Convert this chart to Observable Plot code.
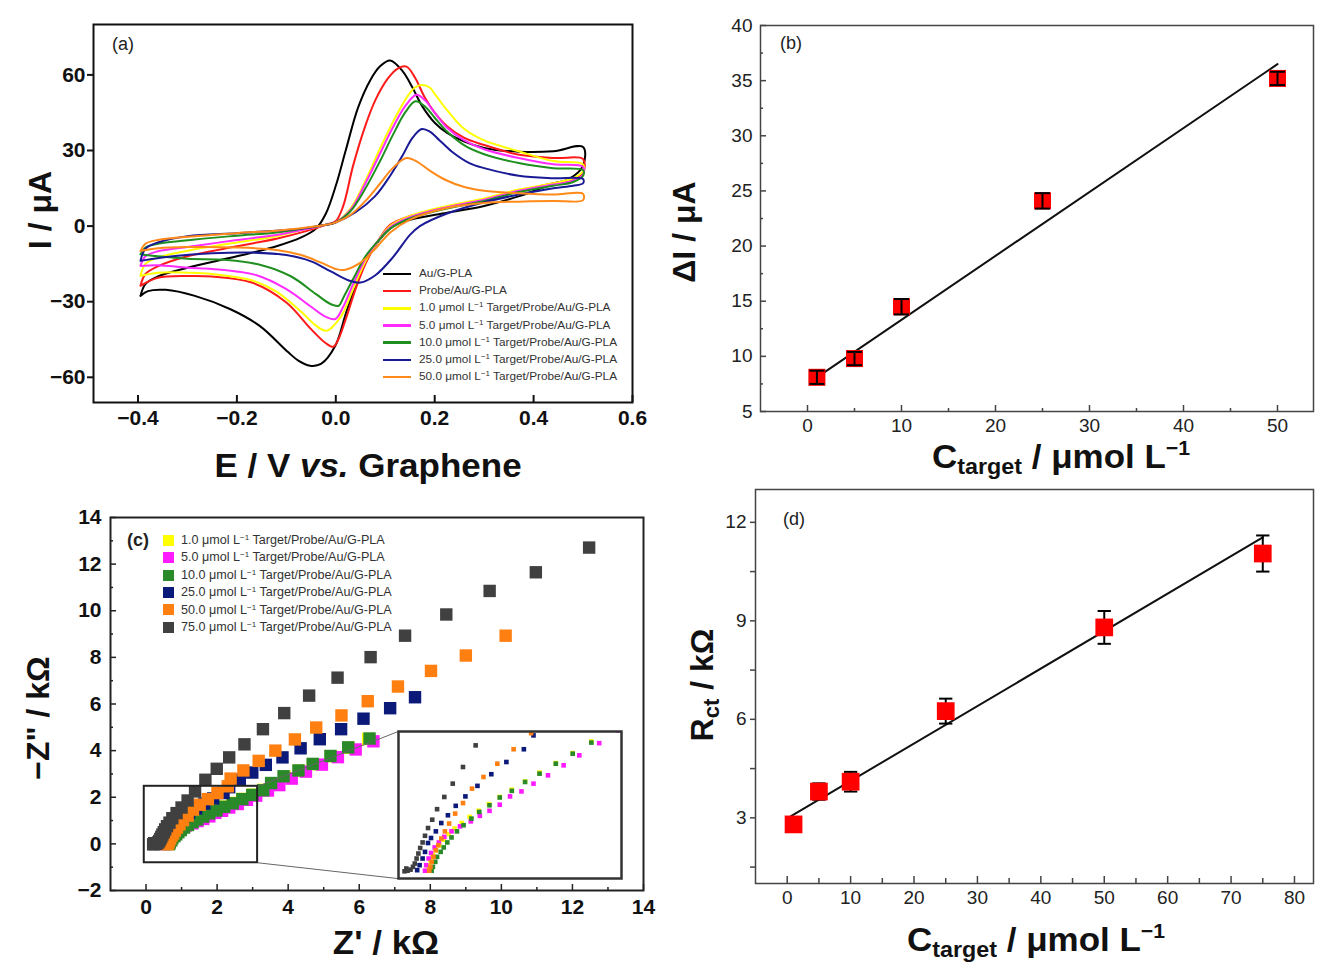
<!DOCTYPE html>
<html><head><meta charset="utf-8">
<script src="https://cdn.jsdelivr.net/npm/d3@7"></script>
<script src="https://cdn.jsdelivr.net/npm/@observablehq/plot@0.6"></script>
<style>
body{margin:0;background:#fff;}
#wrap{position:relative;width:1319px;height:965px;background:#fff;overflow:hidden;font-family:"Liberation Sans",Arial,Helvetica,sans-serif;}
.panel{position:absolute;}
.title{position:absolute;font-weight:bold;font-size:32px;color:#111;white-space:nowrap;transform:translate(-50%,-50%);line-height:1;}
.title.wide{font-size:33px;transform:translate(-50%,-50%) scaleX(1.06);}
.title.rot{transform:translate(-50%,-50%) rotate(-90deg);}
.title sub{font-size:22px;vertical-align:-6px;line-height:0;}
.title sup{font-size:20px;vertical-align:13px;line-height:0;}
.plabel{position:absolute;font-size:18px;color:#222;line-height:1;}
.legrow{position:absolute;color:#333;white-space:nowrap;line-height:1;display:flex;align-items:center;}
.legrow sup{font-size:8px;vertical-align:4px;line-height:0;}
.sw-line{display:inline-block;width:28px;height:2.5px;margin-right:8px;}
.sw-sq{display:inline-block;width:11px;height:11px;margin-right:7px;}
</style></head>
<body>
<div id="wrap">
  <div id="pa" class="panel" style="left:0;top:0"></div>
  <div id="pb" class="panel" style="left:660px;top:0"></div>
  <div id="pc" class="panel" style="left:0;top:480px"></div>
  <div id="pd" class="panel" style="left:660px;top:480px"></div>
  <div id="inset" class="panel"></div>
  <div id="legA"></div>
  <div id="legC"></div>
  <div class="plabel" style="left:112px;top:35px;font-size:18px">(a)</div>
  <div class="plabel" style="left:780px;top:34px">(b)</div>
  <div class="plabel" style="left:127px;top:531px;font-weight:bold">(c)</div>
  <div class="plabel" style="left:783px;top:510px">(d)</div>
  <div class="title rot" style="left:40px;top:210px">I / μA</div>
  <div class="title wide" style="left:368px;top:465px">E / V <i>vs.</i> Graphene</div>
  <div class="title rot" style="left:684px;top:232px">ΔI / μA</div>
  <div class="title wide" style="left:1061px;top:456px">C<sub>target</sub> / μmol L<sup>−1</sup></div>
  <div class="title rot" style="left:38px;top:718px">−Z" / kΩ</div>
  <div class="title wide" style="left:386px;top:942px">Z' / kΩ</div>
  <div class="title rot" style="left:702px;top:685px">R<sub>ct</sub> / kΩ</div>
  <div class="title wide" style="left:1036px;top:939px">C<sub>target</sub> / μmol L<sup>−1</sup></div>
</div>
<script>
// ---------------- Panel (a): cyclic voltammograms [E (V), I (μA)] ----------------
const cvAu = [[-0.395,-27.7],[-0.385,-23],[-0.36,-20],[-0.3,-16.5],[-0.2,-12],[-0.12,-8],[-0.07,-4.5],[-0.04,-1],[-0.02,5],[0.0,16],[0.02,30],[0.045,47],[0.07,58],[0.09,63.5],[0.11,65.7],[0.135,61.5],[0.155,55],[0.175,47.5],[0.2,41],[0.225,37],[0.26,33.5],[0.3,31],[0.37,29.5],[0.44,29.7],[0.5,31.4],
  [0.5,24],[0.47,18.5],[0.444,17.1],[0.371,11.9],[0.298,7.9],[0.225,5.3],[0.152,2.6],[0.116,0],[0.079,-7.9],[0.05,-18.5],[0.021,-34.3],[-0.001,-47.5],[-0.03,-54.7],[-0.052,-55.4],[-0.075,-53.5],[-0.096,-50.1],[-0.154,-39.6],[-0.213,-33],[-0.285,-27.7],[-0.344,-25.3],[-0.38,-25.8],[-0.395,-27.7]];
const cvProbe = [[-0.395,-23.7],[-0.385,-19],[-0.36,-16],[-0.3,-12],[-0.2,-8],[-0.12,-5],[-0.06,-2],[-0.02,0.5],[0.0,2],[0.015,8],[0.035,24],[0.06,40],[0.08,50],[0.105,58.5],[0.125,62.5],[0.143,63.3],[0.16,59],[0.18,51],[0.2,45],[0.225,39.6],[0.26,35],[0.298,32.3],[0.371,28.3],[0.444,27],[0.5,26.6],
  [0.5,21],[0.48,18.5],[0.44,17],[0.37,14],[0.3,10.5],[0.225,7.5],[0.15,4],[0.11,0.5],[0.085,-6],[0.06,-15],[0.04,-25],[0.02,-37],[0.005,-45],[-0.005,-47.9],[-0.02,-46.5],[-0.05,-40.9],[-0.1,-30.3],[-0.17,-22.4],[-0.25,-20],[-0.3,-19.8],[-0.36,-20.5],[-0.395,-23.7]];
const cv1 = [[-0.395,-19.8],[-0.385,-15],[-0.36,-12.5],[-0.285,-9.2],[-0.2,-6.5],[-0.12,-4],[-0.067,-1.5],[-0.02,0.5],[0.0,1.5],[0.03,7],[0.06,18],[0.09,31],[0.12,43],[0.145,51.5],[0.16,55],[0.174,56],[0.19,55],[0.2,52.5],[0.225,46],[0.26,38.5],[0.3,34],[0.37,29.7],[0.44,25.8],[0.5,24.5],
  [0.5,21.8],[0.48,19],[0.44,17],[0.37,14.5],[0.3,11],[0.225,8],[0.15,4],[0.11,0],[0.085,-6],[0.06,-14],[0.035,-25],[0.01,-36],[-0.019,-41.5],[-0.04,-39.5],[-0.07,-34],[-0.12,-26],[-0.17,-21.5],[-0.25,-19],[-0.3,-18.5],[-0.36,-18.5],[-0.395,-19.8]];
const cv5 = [[-0.395,-15.8],[-0.385,-12],[-0.36,-10],[-0.285,-7.9],[-0.2,-5.5],[-0.12,-3.5],[-0.067,-1.5],[-0.02,0.5],[0.0,1.5],[0.03,6.5],[0.06,17],[0.09,29],[0.115,39],[0.14,47.5],[0.163,52.1],[0.18,50],[0.2,45],[0.225,39],[0.26,34],[0.3,30.5],[0.37,27],[0.44,24.5],[0.5,23.5],
  [0.5,20.5],[0.48,18],[0.44,16.5],[0.37,14],[0.3,10.5],[0.225,7.5],[0.15,3.5],[0.11,-0.5],[0.085,-6],[0.06,-13],[0.035,-23],[0.015,-32],[-0.001,-36.9],[-0.02,-36],[-0.05,-32],[-0.1,-25],[-0.16,-19.5],[-0.25,-17],[-0.3,-16.5],[-0.36,-15.5],[-0.395,-15.8]];
const cv10 = [[-0.395,-11.2],[-0.385,-8.5],[-0.36,-7],[-0.285,-5.3],[-0.2,-3.8],[-0.12,-2.5],[-0.067,-1],[-0.02,0.5],[0.0,1.5],[0.03,6],[0.06,15],[0.09,26],[0.115,36],[0.14,45],[0.161,49.5],[0.18,47.5],[0.2,43],[0.225,37.5],[0.26,32],[0.3,28.5],[0.37,25],[0.44,23],[0.5,22.2],
  [0.5,20],[0.48,17.5],[0.44,16],[0.37,13.5],[0.3,10],[0.225,7],[0.15,3],[0.11,-1],[0.085,-6],[0.06,-12],[0.035,-21],[0.015,-28.5],[0.006,-31.6],[-0.01,-31],[-0.04,-27],[-0.09,-20],[-0.15,-15.5],[-0.22,-13.5],[-0.3,-13],[-0.36,-12],[-0.395,-11.2]];
const cv25 = [[-0.395,-13.8],[-0.385,-9],[-0.36,-6.5],[-0.3,-4],[-0.2,-2.8],[-0.12,-1.8],[-0.067,-1],[-0.02,0.5],[0.0,1.5],[0.04,5.5],[0.08,12],[0.11,20],[0.135,28],[0.155,35],[0.174,38.5],[0.19,37.5],[0.21,34],[0.235,29.5],[0.27,25],[0.3,23],[0.37,20],[0.44,19],[0.5,18.7],
  [0.5,17],[0.48,16],[0.44,15],[0.37,12.5],[0.3,9.5],[0.225,5],[0.17,0],[0.15,-3.5],[0.115,-12.5],[0.08,-19.5],[0.05,-22.4],[0.025,-21.5],[-0.01,-18],[-0.05,-14],[-0.1,-11.5],[-0.17,-10.5],[-0.25,-10.8],[-0.33,-12],[-0.395,-13.8]];
const cv50 = [[-0.395,-9.9],[-0.385,-7],[-0.36,-5.5],[-0.285,-4],[-0.2,-2.8],[-0.12,-1.8],[-0.067,-0.8],[-0.02,0.5],[0.0,1.5],[0.03,4.5],[0.06,10],[0.09,17],[0.115,23],[0.143,27],[0.165,25.5],[0.19,22],[0.22,18.5],[0.26,15.5],[0.3,14],[0.37,13],[0.44,12.5],[0.5,12.8],
  [0.5,10.3],[0.44,10],[0.37,9.7],[0.3,9.2],[0.225,7.2],[0.15,2.6],[0.11,-2.5],[0.08,-9],[0.05,-14.5],[0.017,-17.4],[0.0,-17],[-0.03,-14.5],[-0.07,-11.5],[-0.12,-9.5],[-0.2,-8.5],[-0.3,-8.3],[-0.36,-8.8],[-0.395,-9.9]];

const cvNames  = ["Au/G-PLA","Probe/Au/G-PLA","1.0","5.0","10.0","25.0","50.0"];
const cvColors = ["#000000","#ff1a1a","#ffff00","#ff2bff","#1f8f1f","#1a1a96","#ff8a1a"];
const cvData   = [cvAu, cvProbe, cv1, cv5, cv10, cv25, cv50];

const xTicksA = [-0.4,-0.2,0,0.2,0.4,0.6];
const yTicksA = [-60,-30,0,30,60];

// ---------------- Panel (b) ----------------
const bConc   = [1, 5, 10, 25, 50];
const bDeltaI = [8.1, 9.8, 14.5, 24.1, 35.2];
const bErr    = [0.6, 0.6, 0.7, 0.7, 0.6];
const bFitX   = [1, 50];
const bFitY   = [8.1, 36.5];
const xTicksB = [0,10,20,30,40,50];
const xMinorB = [5,15,25,35,45];
const yTicksB = [5,10,15,20,25,30,35,40];
const yMinorB = [7.5,12.5,17.5,22.5,27.5,32.5,37.5];

// ---------------- Panel (c): Nyquist plots [Z' (kΩ), -Z'' (kΩ)] ----------------
const eis1 = [[0.58,-0.01],[0.60,0.08],[0.63,0.18],[0.67,0.27],[0.72,0.36],[0.78,0.45],[0.85,0.55],[0.93,0.65],[1.03,0.75],[1.15,0.85],[1.28,0.96],[1.43,1.07],[1.60,1.19],[1.78,1.32],[1.98,1.45],[2.20,1.60],[2.44,1.76],[2.71,1.93],[2.99,2.11],[3.30,2.32],[3.55,2.60],[3.90,2.88],[4.30,3.14],[4.70,3.42],[5.20,3.76],[5.70,4.12],[6.25,4.50]];
const eis5 = [[0.54,-0.01],[0.56,0.09],[0.60,0.21],[0.64,0.31],[0.70,0.41],[0.77,0.50],[0.86,0.60],[0.98,0.70],[1.12,0.79],[1.30,0.88],[1.45,0.98],[1.61,1.07],[1.78,1.18],[1.95,1.33],[2.14,1.42],[2.34,1.56],[2.58,1.71],[2.84,1.89],[3.10,2.07],[3.43,2.29],[3.75,2.52],[4.10,2.80],[4.50,3.10],[4.95,3.40],[5.40,3.72],[5.90,4.05],[6.40,4.40]];
const eis10 = [[0.65,-0.01],[0.67,0.06],[0.71,0.15],[0.74,0.24],[0.80,0.33],[0.85,0.41],[0.91,0.50],[0.98,0.59],[1.07,0.70],[1.18,0.81],[1.31,0.93],[1.44,1.05],[1.61,1.17],[1.78,1.31],[1.98,1.43],[2.20,1.59],[2.44,1.74],[2.71,1.92],[2.99,2.10],[3.30,2.30],[3.52,2.61],[3.87,2.90],[4.29,3.15],[4.69,3.43],[5.19,3.77],[5.69,4.14],[6.29,4.52]];
const eis25 = [[0.41,0.0],[0.45,0.09],[0.50,0.21],[0.54,0.33],[0.59,0.49],[0.64,0.58],[0.72,0.70],[0.81,0.85],[0.92,0.99],[1.05,1.16],[1.21,1.33],[1.41,1.52],[1.64,1.73],[1.89,1.95],[2.18,2.18],[2.34,2.43],[2.64,2.75],[2.99,3.06],[3.37,3.39],[3.84,3.71],[4.35,4.10],[4.89,4.49],[5.49,4.92],[6.12,5.37],[6.87,5.82],[7.57,6.29]];
const eis50 = [[0.61,-0.01],[0.63,0.06],[0.65,0.15],[0.68,0.24],[0.72,0.36],[0.76,0.45],[0.81,0.57],[0.87,0.70],[0.94,0.84],[1.04,1.02],[1.17,1.21],[1.32,1.47],[1.51,1.68],[1.74,1.92],[2.01,2.18],[2.30,2.47],[2.38,2.80],[2.74,3.15],[3.17,3.56],[3.64,4.00],[4.19,4.48],[4.79,4.99],[5.50,5.51],[6.24,6.12],[7.09,6.75],[8.02,7.42],[9.00,8.08],[10.12,8.93]];
const eis75 = [[0.20,-0.02],[0.23,0.03],[0.25,-0.01],[0.30,0.01],[0.34,0.06],[0.37,0.12],[0.40,0.21],[0.43,0.30],[0.46,0.40],[0.50,0.50],[0.54,0.62],[0.59,0.76],[0.66,0.91],[0.74,1.10],[0.86,1.32],[1.00,1.56],[1.17,1.86],[1.38,2.25],[1.67,2.75],[1.99,3.22],[2.34,3.71],[2.77,4.27],[3.29,4.92],[3.89,5.61],[4.59,6.36],[5.39,7.13],[6.32,8.01],[7.29,8.93],[8.45,9.84],[9.67,10.85],[10.97,11.65],[12.47,12.71]];

const eisNames  = ["1.0","5.0","10.0","25.0","50.0","75.0"];
const eisColors = ["#ffff00","#ff1aff","#2a8a2a","#0b1a78","#ff8010","#404040"];
const eisData   = [eis1, eis5, eis10, eis25, eis50, eis75];

const xTicksC = [0,2,4,6,8,10,12,14];
const xMinorC = [1,3,5,7,9,11,13];
const yTicksC = [-2,0,2,4,6,8,10,12,14];
const yMinorC = [-1,1,3,5,7,9,11,13];
const zoomBox  = {x1: -0.05, x2: 3.14, y1: -0.81, y2: 2.47};
const insetBox = {x1: 7.1, x2: 13.38, y1: -1.49, y2: 4.82};
const insetXDomain = [0.1, 3.8];
const insetYDomain = [-0.15, 2.5];

// ---------------- Panel (d) ----------------
const dConc = [1, 5, 10, 25, 50, 75];
const dRct  = [2.8, 3.8, 4.1, 6.25, 8.8, 11.05];
const dErr  = [0.2, 0.25, 0.3, 0.38, 0.5, 0.55];
const dFitX = [0.6, 75];
const dFitY = [3.05, 11.54];
const xTicksD = [0,10,20,30,40,50,60,70,80];
const xMinorD = [5,15,25,35,45,55,65,75];
const yTicksD = [3,6,9,12];
const yMinorD = [1.5,4.5,7.5,10.5];

// ---------------- helpers ----------------
const FONT = "'Liberation Sans', Arial, Helvetica, sans-serif";
const baseStyle = {background: "transparent", color: "#111", fontFamily: FONT, overflow: "visible"};
const capSymbol = {draw(ctx, size) { const w = Math.sqrt(size); ctx.moveTo(-w / 2, 0); ctx.lineTo(w / 2, 0); }};
const fit = (xs, ys) => xs.map((x, i) => ({x, y: ys[i]}));
const rows = (xs, ys, es) => xs.map((x, i) => ({x, y: ys[i], e: es[i]}));

// ---- (a)
const innerHA = 402 - 24;
const pa = Plot.plot({
  width: 660, height: 480, marginLeft: 93, marginRight: 28, marginTop: 24, marginBottom: 78,
  x: {domain: [-0.49, 0.6]}, y: {domain: [-70, 80]},
  style: baseStyle,
  marks: [
    ...cvData.map((d, i) => Plot.line(d, {x: p => p[0], y: p => p[1], stroke: cvColors[i], strokeWidth: 2, curve: "catmull-rom"})),
    Plot.frame({stroke: "#111", strokeWidth: 2}),
    Plot.tickX(xTicksA, {x: d => d, insetTop: innerHA - 7, stroke: "#111", strokeWidth: 2}),
    Plot.axisX(xTicksA, {tickSize: 0, tickPadding: 8, fontSize: 21, fontWeight: "bold", tickFormat: d3.format(".1f"), label: null}),
    Plot.axisY(yTicksA, {tickSize: 6, tickPadding: 2, fontSize: 21, fontWeight: "bold", strokeWidth: 2, label: null})
  ]
});
document.getElementById("pa").appendChild(pa);

// ---- (b)
const innerHB = 411 - 25, innerWB = 1313 - 760;
const bRows = rows(bConc, bDeltaI, bErr);
const pb = Plot.plot({
  width: 659, height: 480, marginLeft: 100, marginRight: 6, marginTop: 25, marginBottom: 69,
  x: {domain: [-5, 53.83]}, y: {domain: [5, 40]},
  style: baseStyle,
  marks: [
    Plot.line(fit(bFitX, bFitY), {x: "x", y: "y", stroke: "#111", strokeWidth: 2}),
    Plot.dot(bRows, {x: "x", y: "y", symbol: "square", r: 9.6, fill: "#ff0000"}),
    Plot.ruleX(bRows, {x: "x", y1: d => d.y - d.e, y2: d => d.y + d.e, stroke: "#000", strokeWidth: 2}),
    Plot.dot(bRows, {x: "x", y: d => d.y - d.e, symbol: capSymbol, r: 8.5, fill: "none", stroke: "#000", strokeWidth: 2}),
    Plot.dot(bRows, {x: "x", y: d => d.y + d.e, symbol: capSymbol, r: 8.5, fill: "none", stroke: "#000", strokeWidth: 2}),
    Plot.frame({stroke: "#444", strokeWidth: 1.5}),
    Plot.tickX(xTicksB, {x: d => d, insetTop: innerHB - 6, stroke: "#444", strokeWidth: 1.5}),
    Plot.tickX(xMinorB, {x: d => d, insetTop: innerHB - 3, stroke: "#444", strokeWidth: 1.5}),
    Plot.tickY(yTicksB, {y: d => d, insetRight: innerWB - 6, stroke: "#444", strokeWidth: 1.5}),
    Plot.tickY(yMinorB, {y: d => d, insetRight: innerWB - 3, stroke: "#444", strokeWidth: 1.5}),
    Plot.axisX(xTicksB, {tickSize: 0, tickPadding: 7, fontSize: 19, fill: "#222", label: null}),
    Plot.axisY(yTicksB, {tickSize: 0, tickPadding: 8, fontSize: 19, fill: "#222", label: null})
  ]
});
document.getElementById("pb").appendChild(pb);

// ---- (c)
const innerHC = 890 - 517, innerWC = 643 - 110;
const pc = Plot.plot({
  width: 660, height: 485, marginLeft: 110, marginRight: 17, marginTop: 37, marginBottom: 75,
  x: {domain: [-1, 14]}, y: {domain: [-2, 14]},
  style: baseStyle,
  marks: [
    ...eisData.map((d, i) => Plot.dot(d, {x: p => p[0], y: p => p[1], symbol: "square", r: 7, fill: eisColors[i]})),
    Plot.rect([zoomBox], {x1: "x1", x2: "x2", y1: "y1", y2: "y2", fill: "none", stroke: "#222", strokeWidth: 2}),
    Plot.link([{x1: zoomBox.x2, y1: zoomBox.y2, x2: insetBox.x1, y2: insetBox.y2}, {x1: zoomBox.x2, y1: zoomBox.y1, x2: insetBox.x1, y2: insetBox.y1}],
      {x1: "x1", y1: "y1", x2: "x2", y2: "y2", stroke: "#666", strokeWidth: 1}),
    Plot.frame({stroke: "#222", strokeWidth: 2}),
    Plot.tickX(xTicksC, {x: d => d, insetTop: innerHC - 6, stroke: "#222", strokeWidth: 1.5}),
    Plot.tickX(xMinorC, {x: d => d, insetTop: innerHC - 3, stroke: "#222", strokeWidth: 1.5}),
    Plot.tickY(yTicksC, {y: d => d, insetRight: innerWC - 6, stroke: "#222", strokeWidth: 1.5}),
    Plot.tickY(yMinorC, {y: d => d, insetRight: innerWC - 3, stroke: "#222", strokeWidth: 1.5}),
    Plot.axisX(xTicksC, {tickSize: 0, tickPadding: 9, fontSize: 21, fontWeight: "bold", label: null}),
    Plot.axisY(yTicksC, {tickSize: 0, tickPadding: 9, fontSize: 21, fontWeight: "bold", label: null})
  ]
});
document.getElementById("pc").appendChild(pc);

// inset placed exactly on insetBox through the main plot's scales
const sx = pc.scale("x"), sy = pc.scale("y");
const iL = sx.apply(insetBox.x1), iR = sx.apply(insetBox.x2);
const iT = sy.apply(insetBox.y2), iB = sy.apply(insetBox.y1);
const insetEl = document.getElementById("inset");
insetEl.style.left = iL + "px";
insetEl.style.top = (480 + iT) + "px";
const pInset = Plot.plot({
  width: Math.round(iR - iL), height: Math.round(iB - iT), margin: 0,
  x: {domain: insetXDomain, axis: null}, y: {domain: insetYDomain, axis: null},
  style: {background: "#fff", overflow: "visible"},
  marks: [
    ...eisData.map((d, i) => Plot.dot(d, {x: p => p[0], y: p => p[1], symbol: "square", r: 2.6, fill: eisColors[i], clip: true})),
    Plot.frame({stroke: "#333", strokeWidth: 2.5})
  ]
});
insetEl.appendChild(pInset);

// ---- (d)
const innerHD = 883 - 489;
const dRows = rows(dConc, dRct, dErr);
const pd = Plot.plot({
  width: 659, height: 485, marginLeft: 95, marginRight: 6, marginTop: 9, marginBottom: 82,
  x: {domain: [-5, 83]}, y: {domain: [1, 13]},
  style: baseStyle,
  marks: [
    Plot.line(fit(dFitX, dFitY), {x: "x", y: "y", stroke: "#111", strokeWidth: 2}),
    Plot.ruleX(dRows, {x: "x", y1: d => d.y - d.e, y2: d => d.y + d.e, stroke: "#000", strokeWidth: 2}),
    Plot.dot(dRows, {x: "x", y: d => d.y - d.e, symbol: capSymbol, r: 7.5, fill: "none", stroke: "#000", strokeWidth: 2}),
    Plot.dot(dRows, {x: "x", y: d => d.y + d.e, symbol: capSymbol, r: 7.5, fill: "none", stroke: "#000", strokeWidth: 2}),
    Plot.dot(dRows, {x: "x", y: "y", symbol: "square", r: 10, fill: "#ff0000"}),
    Plot.frame({stroke: "#444", strokeWidth: 1.5}),
    Plot.tickX(xTicksD, {x: d => d, insetTop: innerHD - 7, stroke: "#444", strokeWidth: 1.5}),
    Plot.tickX(xMinorD, {x: d => d, insetTop: innerHD - 5, stroke: "#444", strokeWidth: 1.5}),
    Plot.axisY(yMinorD, {tickSize: 5, tickFormat: () => "", strokeWidth: 1.5, stroke: "#444", label: null}),
    Plot.axisX(xTicksD, {tickSize: 0, tickPadding: 7, fontSize: 19, fill: "#222", label: null}),
    Plot.axisY(yTicksD, {tickSize: 5, tickPadding: 4, fontSize: 19, fill: "#222", strokeWidth: 1.5, stroke: "#444", label: null})
  ]
});
document.getElementById("pd").appendChild(pd);

// ---------------- legends ----------------
const legA = document.getElementById("legA");
cvNames.forEach((n, i) => {
  const r = document.createElement("div");
  r.className = "legrow";
  r.style.left = "383px";
  r.style.top = (268 + i * 17.2) + "px";
  r.style.fontSize = "11.8px";
  const sw = document.createElement("span");
  sw.className = "sw-line"; sw.style.background = cvColors[i];
  r.appendChild(sw);
  const t = document.createElement("span");
  t.innerHTML = i < 2 ? n : `${n} μmol L<sup>−1</sup> Target/Probe/Au/G-PLA`;
  r.appendChild(t);
  legA.appendChild(r);
});
const legC = document.getElementById("legC");
eisNames.forEach((n, i) => {
  const r = document.createElement("div");
  r.className = "legrow";
  r.style.left = "163px";
  r.style.top = (534 + i * 17.4) + "px";
  r.style.fontSize = "12.6px";
  const sw = document.createElement("span");
  sw.className = "sw-sq"; sw.style.background = eisColors[i];
  r.appendChild(sw);
  const t = document.createElement("span");
  t.innerHTML = `${n} μmol L<sup>−1</sup> Target/Probe/Au/G-PLA`;
  r.appendChild(t);
  legC.appendChild(r);
});
</script>
</body></html>
